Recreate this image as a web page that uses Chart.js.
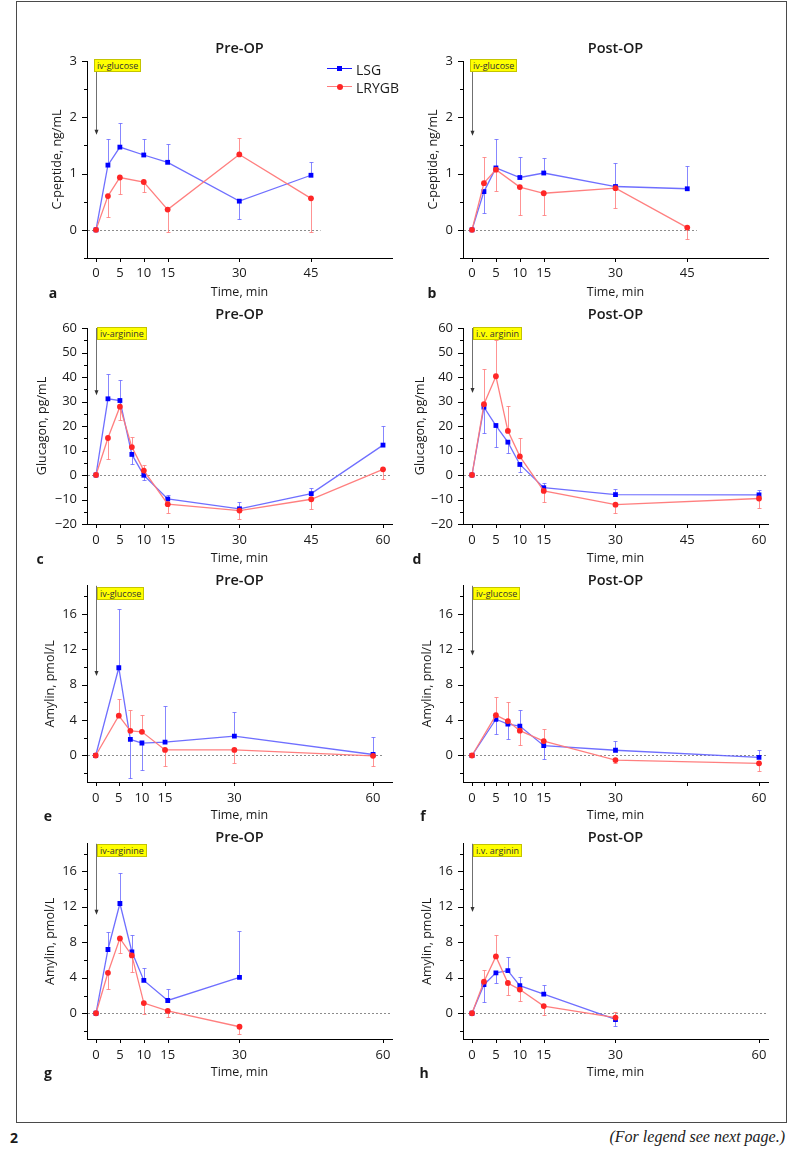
<!DOCTYPE html>
<html><head><meta charset="utf-8">
<script src="https://cdn.jsdelivr.net/npm/chart.js@4.4.1/dist/chart.umd.min.js"></script>
<style>
body{margin:0;background:#fff;width:789px;height:1149px;position:relative;overflow:hidden;font-family:"Open Sans",sans-serif;color:#1a1a1a;}
.frame{position:absolute;left:16px;top:1px;width:769px;height:1120px;border:1px solid #4a4a4a;}
.cv{position:absolute;}
.ttl{position:absolute;font-size:14.5px;font-weight:600;transform:translate(-50%,-50%);white-space:nowrap;}
.let{position:absolute;font-size:14px;font-weight:700;transform:translate(-50%,-50%);}
.ybox{position:absolute;background:#ffff00;border:1px solid #c4c400;font-size:9px;line-height:11px;padding:0 2px;color:#333;white-space:nowrap;}
.lgline{position:absolute;height:0;}
.lgtxt{position:absolute;font-size:14px;transform:translateY(-50%);}
.foot{position:absolute;transform:translateY(-50%);white-space:nowrap;}
</style></head><body>
<div class="frame"></div>
<div id="host"></div>
<!-- legend (panel a) -->
<div class="lgline" style="left:327px;top:68px;width:25px;border-top:1.6px solid #1a1aff"></div>
<div style="position:absolute;left:336.5px;top:66px;width:5px;height:5px;background:#0000ff"></div>
<div class="lgtxt" style="left:356px;top:69px">LSG</div>
<div class="lgline" style="left:327px;top:86px;width:25px;border-top:1.6px solid #ff7c7c"></div>
<div style="position:absolute;left:336.5px;top:84px;width:6px;height:6px;border-radius:50%;background:#ff2626"></div>
<div class="lgtxt" style="left:356px;top:87px">LRYGB</div>
<div class="foot" style="left:10px;top:1137px;font-weight:700;font-size:14px;">2</div>
<div class="foot" style="right:4px;top:1137px;font-style:italic;font-size:16px;font-family:'Liberation Serif',serif;">(For legend see next page.)</div>
<script>
// ---------- DATA ----------
const seriesNames = ['LSG', 'LRYGB'];

const timeA = [0, 2.5, 5, 10, 15, 30, 45];
const aLSG = [0, 1.15, 1.47, 1.33, 1.20, 0.51, 0.97];
const aLSGErr = [0, 0.47, 0.42, 0.28, 0.33, -0.31, 0.24];
const aLRYGB = [0, 0.60, 0.93, 0.85, 0.36, 1.34, 0.56];
const aLRYGBErr = [0, -0.37, -0.30, -0.17, -0.40, 0.29, -0.60];

const timeB = [0, 2.5, 5, 10, 15, 30, 45];
const bLSG = [0, 0.68, 1.10, 0.93, 1.01, 0.77, 0.73];
const bLSGErr = [0, -0.38, 0.52, 0.36, 0.26, 0.41, 0.40];
const bLRYGB = [0, 0.83, 1.07, 0.76, 0.65, 0.74, 0.04];
const bLRYGBErr = [0, 0.47, -0.38, -0.49, -0.38, -0.36, -0.20];

const timeC = [0, 2.5, 5, 7.5, 10, 15, 30, 45, 60];
const cLSG = [0, 31.1, 30.4, 8.4, -0.1, -9.8, -13.8, -7.6, 12.2];
const cLSGErr = [0, 10.3, 8.5, -4.1, -1.9, 1.7, 2.9, 2.2, 7.9];
const cLRYGB = [0, 15.1, 27.9, 11.4, 1.8, -11.9, -14.5, -9.9, 2.3];
const cLRYGBErr = [0, -8.7, -5.6, 4.1, 2.3, -3.7, -3.4, -3.8, -3.8];

const timeD = [0, 2.5, 5, 7.5, 10, 15, 30, 60];
const dLSG = [0, 27.7, 20.2, 13.4, 4.3, -5.2, -8.0, -8.1];
const dLSGErr = [0, -10.5, -8.8, -4.6, -2.9, 1.8, 2.4, 2.0];
const dLRYGB = [0, 28.9, 40.3, 18.0, 7.6, -6.5, -12.1, -9.6];
const dLRYGBErr = [0, 14.5, 14.7, 10.2, 7.3, -4.4, -3.5, -4.0];

const timeE = [0, 5, 7.5, 10, 15, 30, 60];
const eLSG = [0, 9.93, 1.82, 1.41, 1.52, 2.19, 0.11];
const eLSGErr = [0, 6.7, -4.4, -3.1, 4.06, 2.68, 1.93];
const eLRYGB = [0, 4.5, 2.79, 2.68, 0.63, 0.63, -0.04];
const eLRYGBErr = [0, 1.93, 2.38, 1.92, -1.86, -1.49, -1.11];

const timeF = [0, 5, 7.5, 10, 15, 30, 60];
const fLSG = [0, 4.10, 3.56, 3.33, 1.11, 0.59, -0.22];
const fLSGErr = [0, -1.66, -1.71, 1.82, -1.48, 1.0, 0.85];
const fLRYGB = [0, 4.56, 3.89, 2.81, 1.63, -0.52, -0.89];
const fLRYGBErr = [0, 2.11, 2.11, -1.66, 1.33, -0.33, -0.89];

const timeG = [0, 2.5, 5, 7.5, 10, 15, 30];
const gLSG = [0, 7.19, 12.37, 6.93, 3.70, 1.44, 4.04];
const gLSGErr = [0, 1.96, 3.41, 1.88, 1.41, 1.26, 5.26];
const gLRYGB = [0, 4.56, 8.44, 6.52, 1.15, 0.26, -1.52];
const gLRYGBErr = [0, -1.78, -1.70, -1.82, -1.19, -0.70, -0.81];

const timeH = [0, 2.5, 5, 7.5, 10, 15, 30];
const hLSG = [0, 3.22, 4.56, 4.81, 3.11, 2.15, -0.70];
const hLSGErr = [0, -1.92, -1.12, 1.49, 0.93, 1.0, -0.71];
const hLRYGB = [0, 3.56, 6.41, 3.41, 2.67, 0.81, -0.48];
const hLRYGBErr = [0, 1.29, 2.44, -1.30, -1.34, -1.0, 0.67];

// tick labels
const xTicks45 = [0, 5, 10, 15, 30, 45];
const xTicks60full = [0, 5, 10, 15, 30, 45, 60];
const xTicks60 = [0, 5, 10, 15, 30, 60];
const xMinorF = [2.5, 7.5, 12.5, 22.5, 45];
const yTicksCpep = [0, 1, 2, 3];
const yMinorCpep = [-0.5, 0.5, 1.5, 2.5];
const yTicksGluc = [-20, -10, 0, 10, 20, 30, 40, 50, 60];
const yMinorGluc = [-15, -5, 5, 15, 25, 35, 45, 55];
const yTicksAmy = [0, 4, 8, 12, 16];
const yMinorAmy = [-2, 2, 6, 10, 14, 18];

const panelTitles = ['Pre-OP', 'Post-OP', 'Pre-OP', 'Post-OP', 'Pre-OP', 'Post-OP', 'Pre-OP', 'Post-OP'];
const yTitles = ['C-peptide, ng/mL', 'C-peptide, ng/mL', 'Glucagon, pg/mL', 'Glucagon, pg/mL', 'Amylin, pmol/L', 'Amylin, pmol/L', 'Amylin, pmol/L', 'Amylin, pmol/L'];
const xTitle = 'Time, min';
const stimuli = ['iv-glucose', 'iv-glucose', 'iv-arginine', 'i.v. arginin', 'iv-glucose', 'iv-glucose', 'iv-arginine', 'i.v. arginin'];
const letters = ['a', 'b', 'c', 'd', 'e', 'f', 'g', 'h'];
const arrowTips = [1.69, 1.67, 32.6, 33.5, 9.0, 11.3, 11.1, 11.4];

const panelData = [
  {time: timeA, lsg: aLSG, lsgErr: aLSGErr, ryg: aLRYGB, rygErr: aLRYGBErr, xT: xTicks45, xM: [], yT: yTicksCpep, yM: yMinorCpep, yR: [-0.5, 3], xR: [-1.88, 61.96], zeroEnd: 47},
  {time: timeB, lsg: bLSG, lsgErr: bLSGErr, ryg: bLRYGB, rygErr: bLRYGBErr, xT: xTicks45, xM: [], yT: yTicksCpep, yM: yMinorCpep, yR: [-0.5, 3], xR: [-1.88, 61.88], zeroEnd: 47},
  {time: timeC, lsg: cLSG, lsgErr: cLSGErr, ryg: cLRYGB, rygErr: cLRYGBErr, xT: xTicks60full, xM: [], yT: yTicksGluc, yM: yMinorGluc, yR: [-20, 60], xR: [-1.88, 61.88], zeroEnd: null},
  {time: timeD, lsg: dLSG, lsgErr: dLSGErr, ryg: dLRYGB, rygErr: dLRYGBErr, xT: xTicks60full, xM: [], yT: yTicksGluc, yM: yMinorGluc, yR: [-20, 60], xR: [-1.88, 61.88], zeroEnd: null},
  {time: timeE, lsg: eLSG, lsgErr: eLSGErr, ryg: eLRYGB, rygErr: eLRYGBErr, xT: xTicks60, xM: [], yT: yTicksAmy, yM: yMinorAmy, yR: [-3, 19.2], xR: [-1.88, 64.1], zeroEnd: 62},
  {time: timeF, lsg: fLSG, lsgErr: fLSGErr, ryg: fLRYGB, rygErr: fLRYGBErr, xT: xTicks60, xM: xMinorF, yT: yTicksAmy, yM: yMinorAmy, yR: [-3, 19.2], xR: [-1.88, 61.88], zeroEnd: null},
  {time: timeG, lsg: gLSG, lsgErr: gLSGErr, ryg: gLRYGB, rygErr: gLRYGBErr, xT: xTicks60, xM: [], yT: yTicksAmy, yM: yMinorAmy, yR: [-2.9, 19.1], xR: [-1.88, 61.88], zeroEnd: null},
  {time: timeH, lsg: hLSG, lsgErr: hLSGErr, ryg: hLRYGB, rygErr: hLRYGBErr, xT: xTicks60, xM: [], yT: yTicksAmy, yM: yMinorAmy, yR: [-2.9, 19.1], xR: [-1.88, 61.88], zeroEnd: null}
];

// ---------- LAYOUT (styling only) ----------
const cols = [{cx: 20, w: 380, L: 87, R: 392}, {cx: 400, w: 380, L: 463, R: 768}];
const rows = [
  {cy: 38, h: 264, T: 61, B: 258, tickPad: 7.2, titleY: 47, boxTop: 59, letterY: 292},
  {cy: 305, h: 263, T: 328, B: 524, tickPad: 8.2, titleY: 313, boxTop: 327, letterY: 558},
  {cy: 568, h: 257, T: 583, B: 782, tickPad: 8.2, titleY: 579, boxTop: 587, letterY: 815},
  {cy: 826, h: 256, T: 842, B: 1039, tickPad: 8.2, titleY: 836, boxTop: 844, letterY: 1072}
];
const yTitlePads = [29.5, 25.5, 14.5, 12.5, 22.5, 19.5, 22.5, 19.5];
const letterX = [53, 432, 40, 417, 48, 423, 48, 424];
const boxOffset = [7, 7, 10, 10, 10, 10, 10, 10];

const FONT = '"Open Sans", sans-serif';
Chart.defaults.font.family = FONT;
Chart.defaults.color = '#1a1a1a';

const fmt = v => (v < 0 ? '\u2212' + Math.abs(v) : String(v));

const extras = {
  id: 'extras',
  beforeDatasetsDraw(chart, args, o) {
    const {ctx, chartArea: ca, scales: {x, y}} = chart;
    ctx.save();
    // zero reference line
    ctx.strokeStyle = '#8c8c8c'; ctx.lineWidth = 1; ctx.setLineDash([2, 2]);
    const y0 = Math.round(y.getPixelForValue(0)) + 0.5;
    const xe = o.zeroEnd != null ? x.getPixelForValue(o.zeroEnd) : ca.right;
    ctx.beginPath(); ctx.moveTo(ca.left + 1, y0); ctx.lineTo(xe, y0); ctx.stroke();
    ctx.setLineDash([]);
    // stimulus arrow
    const ax = Math.round(x.getPixelForValue(0)) + 0.5;
    const tip = y.getPixelForValue(o.arrowTip);
    ctx.strokeStyle = '#707070'; ctx.lineWidth = 1;
    ctx.beginPath(); ctx.moveTo(ax, ca.top); ctx.lineTo(ax, tip - 3); ctx.stroke();
    ctx.fillStyle = '#333';
    ctx.beginPath(); ctx.moveTo(ax - 2, tip - 5); ctx.lineTo(ax + 2, tip - 5); ctx.lineTo(ax, tip); ctx.closePath(); ctx.fill();
    // error bars (one-sided; sign gives direction)
    chart.data.datasets.forEach(ds => {
      ctx.strokeStyle = ds.errColor; ctx.lineWidth = 1;
      ds.data.forEach((p, j) => {
        const e = ds.err[j];
        if (!e) return;
        const px = Math.round(x.getPixelForValue(p.x)) + 0.5;
        const py = y.getPixelForValue(p.y);
        const pe = Math.round(y.getPixelForValue(p.y + e)) + 0.5;
        ctx.beginPath();
        ctx.moveTo(px, py); ctx.lineTo(px, pe);
        ctx.moveTo(px - 2, pe); ctx.lineTo(px + 2, pe);
        ctx.stroke();
      });
    });
    ctx.restore();
  },
  afterDraw(chart, args, o) {
    const {ctx, chartArea: ca, scales: {x, y}} = chart;
    ctx.save();
    ctx.strokeStyle = '#000'; ctx.lineWidth = 1;
    ctx.beginPath();
    o.yMajor.forEach(v => { const py = Math.round(y.getPixelForValue(v)) + 0.5; ctx.moveTo(ca.left - 5, py); ctx.lineTo(ca.left, py); });
    o.yMinor.forEach(v => { const py = Math.round(y.getPixelForValue(v)) + 0.5; ctx.moveTo(ca.left - 3, py); ctx.lineTo(ca.left, py); });
    o.xMajor.forEach(v => { const px = Math.round(x.getPixelForValue(v)) + 0.5; ctx.moveTo(px, ca.bottom); ctx.lineTo(px, ca.bottom + 4); });
    o.xMinor.forEach(v => { const px = Math.round(x.getPixelForValue(v)) + 0.5; ctx.moveTo(px, ca.bottom); ctx.lineTo(px, ca.bottom + 4); });
    ctx.stroke();
    ctx.restore();
  }
};
Chart.register(extras);

const host = document.getElementById('host');
panelData.forEach((pd, i) => {
  const col = cols[i % 2], row = rows[Math.floor(i / 2)];
  const cv = document.createElement('canvas');
  cv.className = 'cv';
  cv.width = col.w; cv.height = row.h;
  cv.style.left = col.cx + 'px'; cv.style.top = row.cy + 'px';
  cv.style.width = col.w + 'px'; cv.style.height = row.h + 'px';
  host.appendChild(cv);

  const t = document.createElement('div');
  t.className = 'ttl'; t.textContent = panelTitles[i];
  t.style.left = ((col.L + col.R) / 2) + 'px'; t.style.top = row.titleY + 'px';
  document.body.appendChild(t);
  const lt = document.createElement('div');
  lt.className = 'let'; lt.textContent = letters[i];
  lt.style.left = letterX[i] + 'px'; lt.style.top = row.letterY + 'px';
  document.body.appendChild(lt);

  const xAxisH = row.cy + row.h - row.B;
  const yAxisW = col.L - col.cx;

  new Chart(cv, {
    type: 'scatter',
    data: {
      datasets: [
        {
          label: seriesNames[0],
          data: pd.time.map((tv, j) => ({x: tv, y: pd.lsg[j]})),
          err: pd.lsgErr, errColor: 'rgba(95,95,255,0.75)',
          showLine: true, borderColor: 'rgba(95,95,255,0.9)', borderWidth: 1.3,
          pointStyle: 'rect', pointRadius: 3.4, pointBackgroundColor: '#0000ff', pointBorderColor: '#0000ff', pointBorderWidth: 0,
          order: 1
        },
        {
          label: seriesNames[1],
          data: pd.time.map((tv, j) => ({x: tv, y: pd.ryg[j]})),
          err: pd.rygErr, errColor: 'rgba(255,120,120,0.8)',
          showLine: true, borderColor: 'rgba(255,120,120,0.95)', borderWidth: 1.3,
          pointStyle: 'circle', pointRadius: 2.9, pointBackgroundColor: '#ff2626', pointBorderColor: '#ff2626', pointBorderWidth: 0,
          order: 0
        }
      ]
    },
    options: {
      responsive: false, animation: false, events: [],
      layout: {padding: {top: row.T - row.cy, right: col.cx + col.w - col.R, left: 0, bottom: 0}},
      plugins: {
        legend: {display: false}, tooltip: {enabled: false},
        extras: {zeroEnd: pd.zeroEnd, arrowTip: arrowTips[i], yMajor: pd.yT, yMinor: pd.yM, xMajor: pd.xT, xMinor: pd.xM}
      },
      scales: {
        x: {
          type: 'linear', min: pd.xR[0], max: pd.xR[1],
          afterBuildTicks: s => { s.ticks = pd.xT.map(v => ({value: v})); },
          afterFit: s => { s.height = xAxisH; },
          grid: {display: false, drawTicks: false, tickLength: 0}, border: {display: true, color: '#000', width: 1},
          ticks: {padding: row.tickPad, font: {size: 13}, color: '#1a1a1a', maxRotation: 0, autoSkip: false, callback: v => fmt(v)},
          title: {display: true, text: xTitle, font: {size: 12.5}, color: '#1a1a1a', padding: {top: 0, bottom: 2.5}}
        },
        y: {
          type: 'linear', min: pd.yR[0], max: pd.yR[1],
          afterBuildTicks: s => { s.ticks = pd.yT.map(v => ({value: v})); },
          afterFit: s => { s.width = yAxisW; },
          grid: {display: false, drawTicks: false, tickLength: 0}, border: {display: true, color: '#000', width: 1},
          ticks: {padding: 10, font: {size: 13}, color: '#1a1a1a', autoSkip: false, callback: v => fmt(v)},
          title: {display: true, text: yTitles[i], font: {size: 12.5}, color: '#1a1a1a', padding: {top: yTitlePads[i], bottom: 0}}
        }
      }
    }
  });

  const bx = document.createElement('div');
  bx.className = 'ybox'; bx.textContent = stimuli[i];
  bx.style.left = (col.L + boxOffset[i]) + 'px'; bx.style.top = row.boxTop + 'px';
  document.body.appendChild(bx);
});
</script>
</body></html>
